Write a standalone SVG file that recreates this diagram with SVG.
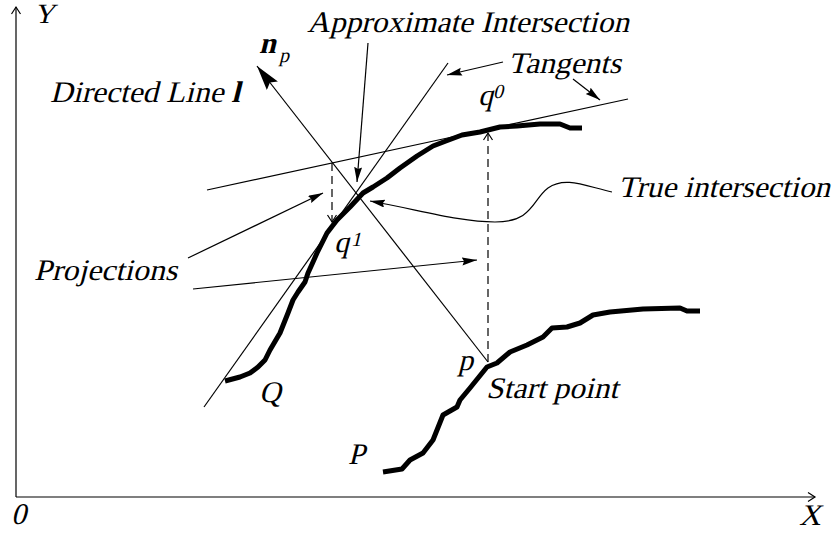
<svg xmlns="http://www.w3.org/2000/svg" width="836" height="533" viewBox="0 0 836 533" font-family="Liberation Serif, Times New Roman, Times, serif" font-size="30">
<style>
.b{font-weight:bold}
.s{font-size:20px}
.thin{fill:none;stroke:#000;stroke-width:1.2}
.dash{fill:none;stroke:#000;stroke-width:1.2;stroke-dasharray:8 5}
.thick{fill:none;stroke:#000;stroke-width:5;stroke-linejoin:round}
</style>
<defs>
<marker id="fa" markerUnits="userSpaceOnUse" markerWidth="16" markerHeight="10" refX="15" refY="4" orient="auto"><path d="M0,0 L15,4 L0,8 L2,4 z" fill="#000"/></marker>
<marker id="big" markerUnits="userSpaceOnUse" markerWidth="26" markerHeight="14" refX="25" refY="7" orient="auto"><path d="M0,0 L25,7 L0,14 L4,7 z" fill="#000"/></marker>
<marker id="oa" markerUnits="userSpaceOnUse" markerWidth="10" markerHeight="12" refX="8" refY="5" orient="auto"><path d="M1,0.5 L8,5 L1,9.5" fill="none" stroke="#000" stroke-width="1.2"/></marker>
</defs>

<g id="axes">
<line class="thin" x1="16" y1="497" x2="16" y2="7" marker-end="url(#oa)"/>
<line class="thin" x1="16" y1="497" x2="815" y2="497" marker-end="url(#oa)"/>
<text transform="translate(34,23) skewX(-14)" font-size="28">Y</text>
<text transform="translate(11,524) skewX(-14)">0</text>
<text transform="translate(799,525) skewX(-14)">X</text>
</g>

<g id="curve-Q">
<polyline class="thick" points="225,381 240,377 250,373 258,367 265,360 270,350 280,333 288,313 293,300 298,292 305,282 308,273 313,262 317,253 322,243 327,233 337,220 350,207 363,193 373,187 387,178 400,168 417,156 433,146 446,141 462,135 480,132 500,127 517,126 540,124 560,124 570,128 582,128"/>
<text transform="translate(259,402) skewX(-14)">Q</text>
</g>

<g id="curve-P">
<polyline class="thick" points="383,472 402,469 410,460 423,453 433,440 443,415 457,407 460,400 470,388 487,367 497,363 510,352 527,345 543,337 552,328 567,327 580,323 593,315 610,312 643,309 680,308 687,311 700,311"/>
<text transform="translate(348,464) skewX(-14)">P</text>
</g>

<g id="tangents">
<line class="thin" x1="204" y1="407" x2="448" y2="63"/>
<line class="thin" x1="207" y1="190" x2="628" y2="99"/>
</g>

<g id="directed-line">
<line class="thin" x1="488" y1="362" x2="257" y2="66" marker-end="url(#big)"/>
<text transform="translate(50,102) skewX(-14)" textLength="190" lengthAdjust="spacingAndGlyphs">Directed Line <tspan class="b">l</tspan></text>
<text class="b" transform="translate(259,53) skewX(-14)">n</text>
<text class="s" transform="translate(279,62) skewX(-14)">p</text>
</g>

<g id="projections">
<line class="dash" x1="332" y1="163" x2="332" y2="222" marker-end="url(#oa)"/>
<line class="dash" x1="488" y1="362" x2="488" y2="133" marker-end="url(#oa)"/>
</g>

<g id="points">
<text transform="translate(478,105) skewX(-14)">q</text>
<text class="s" transform="translate(493,98) skewX(-14)">0</text>
<text transform="translate(334,252) skewX(-14)">q</text>
<text class="s" transform="translate(351,246) skewX(-14)">1</text>
<text transform="translate(458,370) skewX(-14)">p</text>
<text transform="translate(486,398) skewX(-14)" textLength="132" lengthAdjust="spacingAndGlyphs">Start point</text>
</g>

<g id="connectors">
<line class="thin" x1="368" y1="43" x2="357" y2="182" marker-end="url(#fa)"/>
<line class="thin" x1="503" y1="62" x2="447" y2="75" marker-end="url(#fa)"/>
<line class="thin" x1="573" y1="79" x2="600" y2="100" marker-end="url(#fa)"/>
<line class="thin" x1="188" y1="258" x2="323" y2="193" marker-end="url(#fa)"/>
<line class="thin" x1="193" y1="289" x2="477" y2="260" marker-end="url(#fa)"/>
<path class="thin" d="M612,192 C585,186 565,176 548,188 C532,200 533,222 495,222 C460,222 420,210 370,201" marker-end="url(#fa)"/>
</g>

<g id="labels">
<text transform="translate(307,32) skewX(-14)" textLength="322" lengthAdjust="spacingAndGlyphs">Approximate Intersection</text>
<text transform="translate(508,73) skewX(-14)" textLength="113" lengthAdjust="spacingAndGlyphs">Tangents</text>
<text transform="translate(618,197) skewX(-14)" textLength="212" lengthAdjust="spacingAndGlyphs">True intersection</text>
<text transform="translate(34,280) skewX(-14)" textLength="143" lengthAdjust="spacingAndGlyphs">Projections</text>
</g>
</svg>
